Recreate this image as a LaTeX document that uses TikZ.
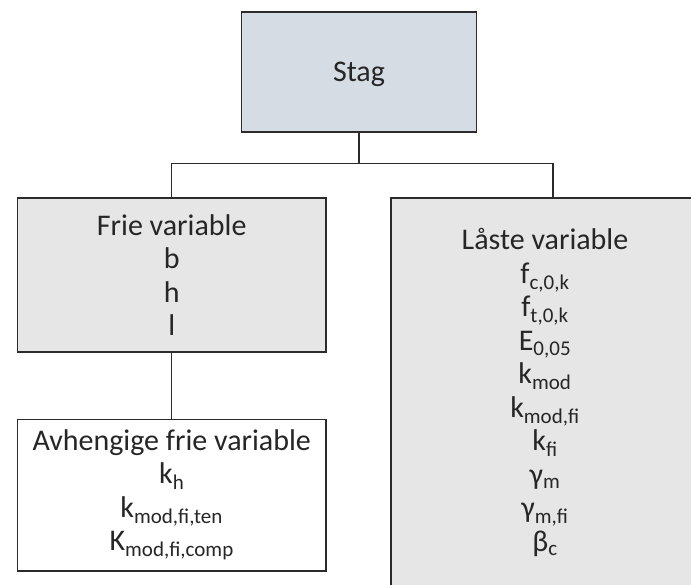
\documentclass[tikz,border=0pt]{standalone}
\usepackage{fontspec}
\setmainfont{Carlito}
\usetikzlibrary{positioning}

\definecolor{stagfill}{HTML}{D6DCE4}
\definecolor{varfill}{HTML}{E7E6E6}
\definecolor{boxline}{HTML}{2B2B2B}
\definecolor{textcol}{HTML}{262626}

\newcommand{\boxfont}{\fontsize{30}{33.5}\selectfont\lineskiplimit-100pt\relax}

\begin{document}
\begin{tikzpicture}[x = 1pt, y = -1pt,
  txt/.style = {align=center, text=textcol, font=\boxfont},
  box/.style = {txt, draw=boxline, line width=1.5pt, rectangle},
  link/.style = {draw=boxline, line width=1.5pt}]

  \useasboundingbox (0,0) rectangle (691,584);

  \node[box, fill=stagfill, minimum width=235pt, minimum height=120pt, text depth=0pt] (stag) at (359, 71.9) {Stag};

  \node[box, fill=varfill, minimum width=308.5pt, minimum height=154pt] (frie) at (171.7, 275)
    {Frie variable\\ b\\ h\\ l};

  \node[box, fill=varfill, minimum width=324pt, minimum height=420pt, anchor=north] (laaste) at (553, 197.3) {};
  \node[txt] (laastetxt) at (545, 392.5)
    {Låste variable\\ f\textsubscript{c,0,k}\\ f\textsubscript{t,0,k}\\ E\textsubscript{0,05}\\
     k\textsubscript{mod}\\ k\textsubscript{mod,fi}\\ k\textsubscript{fi}\\ γ\textsubscript{m}\\
     γ\textsubscript{m,fi}\\ β\textsubscript{c}};

  \node[box, fill=white, minimum width=308.5pt, minimum height=151.5pt] (avh) at (171.7, 495)
    {Avhengige frie variable\\ k\textsubscript{h}\\ k\textsubscript{mod,fi,ten}\\ K\textsubscript{mod,fi,comp}};

  \coordinate (split) at (359, 163.3);

  \draw[link] (stag.south) -- (split);
  \draw[link] (split) -| (frie.north);
  \draw[link] (split) -| (laaste.north);
  \draw[link] (frie.south) -- (avh.north);

\end{tikzpicture}
\end{document}
